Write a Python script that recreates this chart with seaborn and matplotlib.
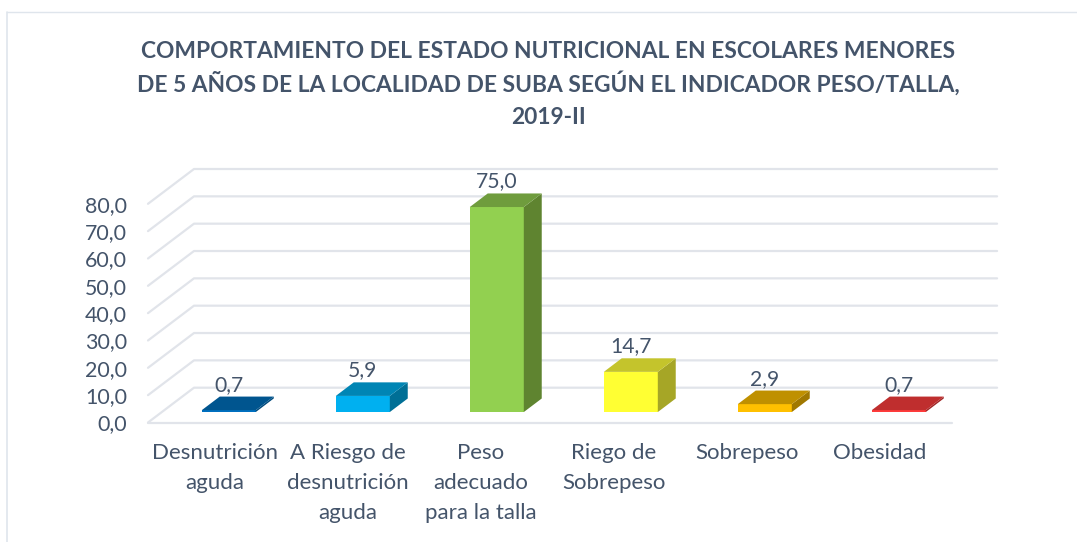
import matplotlib
matplotlib.use("Agg")
import matplotlib.pyplot as plt
from matplotlib.patches import Polygon
import seaborn as sns
import pandas as pd

categories = ["Desnutrición\naguda", "A Riesgo de\ndesnutrición\naguda", "Peso\nadecuado\npara la talla",
              "Riego de\nSobrepeso", "Sobrepeso", "Obesidad"]
values = [0.7, 5.9, 75.0, 14.7, 2.9, 0.7]
front_colors = ["#0070C0", "#00B0F0", "#92D050", "#FFFF33", "#FFC000", "#FF3B3B"]
top_colors = ["#00558F", "#0085B4", "#6F9C3D", "#C4C42C", "#BF9000", "#BF2E2E"]
side_colors = ["#004A7C", "#006F96", "#5F8430", "#A6A626", "#A07800", "#A02626"]
yticks = [0, 10, 20, 30, 40, 50, 60, 70, 80]
title_lines = ["COMPORTAMIENTO DEL ESTADO NUTRICIONAL EN ESCOLARES MENORES",
               "DE 5 AÑOS DE LA LOCALIDAD DE SUBA SEGÚN EL INDICADOR PESO/TALLA,",
               "2019-II"]
title_baselines = [58, 92, 124]

W, H = 1077, 542
TEXT = "#44546A"
GRID = "#E1E4EA"
sns.set_theme(style="white")
plt.rcParams["font.family"] = ["Lato", "DejaVu Sans"]

fig = plt.figure(figsize=(W / 100, H / 100), dpi=100, facecolor="white")
L, R, Y0, Y80 = 148, 952, 422.5, 203.8
ax = fig.add_axes([L / W, 1 - Y0 / H, (R - L) / W, (Y0 - Y80) / H])

df = pd.DataFrame({"cat": categories, "val": values})
sns.barplot(data=df, x="cat", y="val", hue="cat", palette=front_colors, legend=False,
            width=54 / 134, saturation=1, linewidth=0, ax=ax, zorder=3)
ax.set_xlim(-0.5, 5.5)
ax.set_ylim(0, 80)
ax.set_xlabel("")
ax.set_ylabel("")

# wall depth and the fraction of it at which the bars stand, in data units
DX = 46 / 134
DY = 34.8 / (218.7 / 80)
BAR_D = 0.3
BAR_DEPTH = 0.39

for s in ax.spines.values():
    s.set_visible(False)

# walls
ax.plot([-0.5, 5.5], [0, 0], color=GRID, lw=1.6, clip_on=False, zorder=1)
for t in yticks:
    ax.plot([-0.5, -0.5 + DX, 5.5 + DX * 0.98], [t, t + DY, t + DY], color=GRID, lw=1.6,
            clip_on=False, zorder=1)

# bars with their side and top faces
for i, (p, v) in enumerate(zip(ax.patches, values)):
    x0 = p.get_x() + BAR_D * DX
    w = p.get_width()
    y0 = BAR_D * DY
    p.set_x(x0)
    p.set_y(y0)
    p.set_clip_on(False)
    x1 = x0 + w
    ddx, ddy = BAR_DEPTH * DX, BAR_DEPTH * DY
    ax.add_patch(Polygon([(x1, y0), (x1 + ddx, y0 + ddy), (x1 + ddx, y0 + v + ddy), (x1, y0 + v)],
                         facecolor=side_colors[i], edgecolor="none", clip_on=False, zorder=3))
    ax.add_patch(Polygon([(x0, y0 + v), (x1, y0 + v), (x1 + ddx, y0 + v + ddy), (x0 + ddx, y0 + v + ddy)],
                         facecolor=top_colors[i], edgecolor="none", clip_on=False, zorder=3))
    ax.text(x0 + w / 2, y0 + v + 25.5 / (218.7 / 80), f"{v:.1f}".replace(".", ","), ha="center", va="center",
            fontsize=15.2, color=TEXT, zorder=4)

ax.set_yticks(yticks)
ax.set_yticklabels([f"{t:.1f}".replace(".", ",") for t in yticks], fontsize=15.4, color=TEXT)
ax.set_xticks([i * 133 / 134 for i in range(len(categories))])
ax.set_xticklabels(categories, fontsize=16, color=TEXT, linespacing=1.6)
ax.tick_params(axis="y", length=0, pad=15)
ax.tick_params(axis="x", length=0, pad=15)

for line, base in zip(title_lines, title_baselines):
    fig.text(548 / W, 1 - base / H, line, ha="center", va="baseline", fontsize=16.4, fontweight="bold",
             color=TEXT)

# chart frame
frame = "#DFE5EC"
fig.add_artist(plt.Line2D([6.5 / W, 6.5 / W], [0, 1 - 11.5 / H], color=frame, lw=1.2))
fig.add_artist(plt.Line2D([6.5 / W, 1], [1 - 11.5 / H, 1 - 11.5 / H], color=frame, lw=1.0))

fig.savefig("out.png", dpi=100, facecolor="white")
